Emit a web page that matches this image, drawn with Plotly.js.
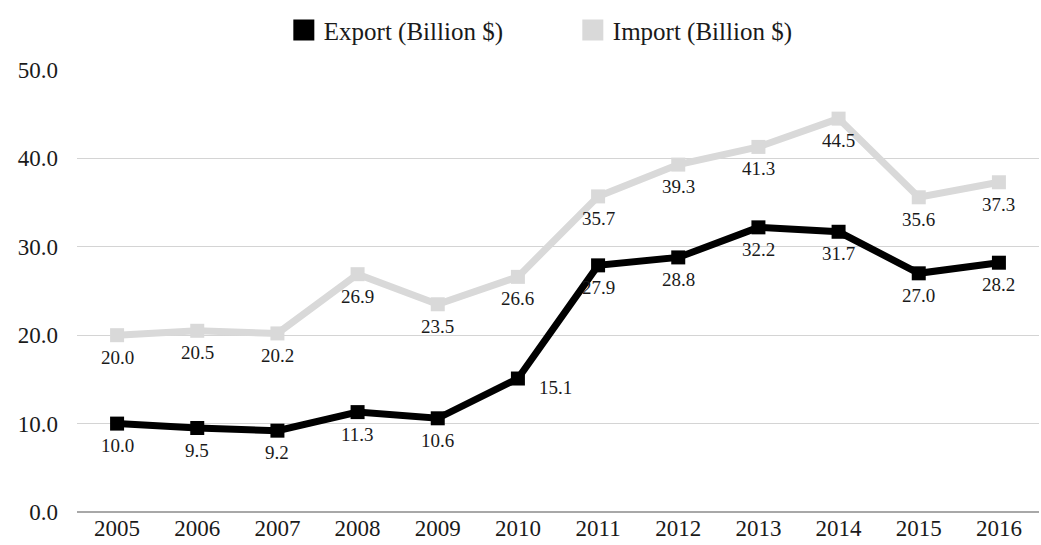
<!DOCTYPE html>
<html>
<head>
<meta charset="utf-8">
<script src="https://cdn.plot.ly/plotly-3.0.1.min.js"></script>
<style>html,body{margin:0;padding:0;background:#fff;}#chart{width:1041px;height:545px;}</style>
</head>
<body>
<div id="chart"></div>
<script>
var years = ['2005','2006','2007','2008','2009','2010','2011','2012','2013','2014','2015','2016'];
var exportValues = [10.0, 9.5, 9.2, 11.3, 10.6, 15.1, 27.9, 28.8, 32.2, 31.7, 27.0, 28.2];
var importValues = [20.0, 20.5, 20.2, 26.9, 23.5, 26.6, 35.7, 39.3, 41.3, 44.5, 35.6, 37.3];
var yTicks = [0, 10, 20, 30, 40, 50];
var yTickLabels = ['0.0', '10.0', '20.0', '30.0', '40.0', '50.0'];
var exportName = 'Export (Billion $)';
var importName = 'Import (Billion $)';

var exportColor = '#000000';
var importColor = '#d9d9d9';
var textColor = '#1a1a1a';
var fontFamily = '"Liberation Serif", "Times New Roman", serif';

var traces = [
  {
    x: years, y: importValues, type: 'scatter', mode: 'lines+markers',
    name: importName, showlegend: false,
    line: {color: importColor, width: 7},
    marker: {color: importColor, symbol: 'square', size: 14},
    cliponaxis: false
  },
  {
    x: years, y: exportValues, type: 'scatter', mode: 'lines+markers',
    name: exportName, showlegend: false,
    line: {color: exportColor, width: 7},
    marker: {color: exportColor, symbol: 'square', size: 14},
    cliponaxis: false
  },
  {
    x: [null], y: [null], type: 'scatter', mode: 'markers', name: exportName,
    marker: {color: exportColor, symbol: 'square', size: 16, line: {color: exportColor, width: 6}}
  },
  {
    x: [null], y: [null], type: 'scatter', mode: 'markers', name: importName,
    marker: {color: importColor, symbol: 'square', size: 16, line: {color: importColor, width: 6}}
  }
];

var annotations = [];
function addLabels(vals, special) {
  vals.forEach(function(v, i) {
    var sp = special[i];
    annotations.push({
      x: i, y: v, xref: 'x', yref: 'y',
      text: v.toFixed(1), showarrow: false,
      xshift: sp ? sp[0] : 0, yshift: sp ? sp[1] : -22,
      font: {family: fontFamily, size: 19, color: textColor}
    });
  });
}
addLabels(importValues, {});
addLabels(exportValues, {5: [38, -9]});

var layout = {
  width: 1041, height: 545,
  margin: {l: 77, r: 2, t: 70, b: 33},
  paper_bgcolor: '#ffffff', plot_bgcolor: '#ffffff',
  font: {family: fontFamily, size: 22, color: textColor},
  showlegend: true,
  legend: {
    orientation: 'h', x: 0.215, xanchor: 'left', y: 1.09, yanchor: 'middle',
    font: {family: fontFamily, size: 25, color: textColor},
    itemwidth: 30, traceorder: 'normal', entrywidth: 244, entrywidthmode: 'pixels'
  },
  annotations: annotations,
  xaxis: {
    type: 'category', range: [-0.5, 11.5], showgrid: false, zeroline: false,
    showline: false, ticks: '', tickfont: {family: fontFamily, size: 23, color: textColor},
    fixedrange: true
  },
  yaxis: {
    range: [0, 50], tickvals: yTicks, ticktext: yTickLabels,
    showgrid: true, gridcolor: '#d4d4d4', gridwidth: 1.3,
    zeroline: true, zerolinecolor: '#a8a8a8', zerolinewidth: 1.5,
    showline: false, ticks: '', ticklabelstandoff: 18,
    tickfont: {family: fontFamily, size: 23, color: textColor},
    fixedrange: true
  }
};

Plotly.newPlot('chart', traces, layout, {displayModeBar: false, staticPlot: true});
</script>
</body>
</html>
